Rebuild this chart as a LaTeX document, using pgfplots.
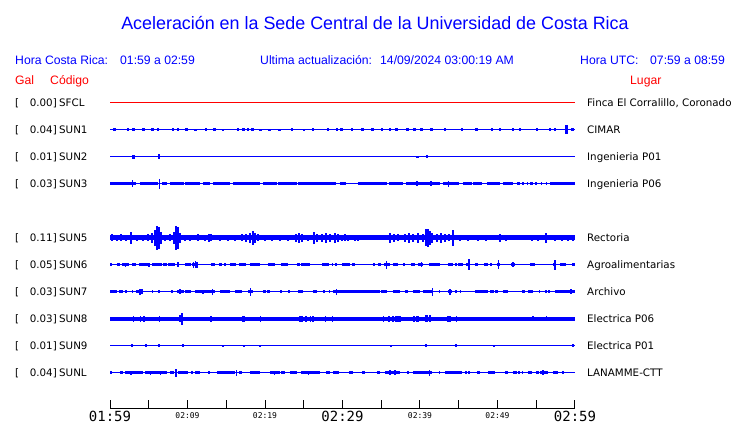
\documentclass[border=0pt]{standalone}
\usepackage{fontspec}
\setmainfont{Liberation Sans}
\newfontfamily\dejavu{DejaVu Sans}
\newfontfamily\mono{DejaVu Sans Mono}
\usepackage{pgfplots}
\pgfplotsset{compat=1.18}

% y axis is in points: each station trace sits on its own baseline
\pgfplotsset{
  base/.style={blue, line width=#1, mark=none},
  blocks/.style={draw=none, mark=none,
    error bars/.cd, x dir=both, x explicit, error mark=none,
    error bar style={draw=blue, line width=#1}},
  spikes/.style={draw=none, mark=none,
    error bars/.cd, y dir=both, y explicit, error mark=none,
    error bar style={draw=blue, line width=#1}},
}
\newcommand\bigtick{\mono\fontsize{14bp}{14bp}\selectfont}
\newcommand\smalltick{\mono\fontsize{8bp}{8bp}\selectfont}
\newcommand\station[4]{%
  \node[anchor=base west] at (15bp,#1bp-3.7bp) {[};
  \node[anchor=base east] at (57bp,#1bp-3.7bp) {#2]};
  \node[anchor=base west] at (59bp,#1bp-3.7bp) {#3};
  \node[anchor=base west] at (587bp,#1bp-3.7bp) {#4};}

\begin{document}
\begin{tikzpicture}
\useasboundingbox (0,0) rectangle (740bp,423bp);
\begin{axis}[
  at={(110bp,14bp)}, anchor=south west,
  scale only axis, width=465bp, height=319bp,
  xmin=0, xmax=60, ymin=14, ymax=333,
  axis x line*=bottom, axis y line=none, ytick=\empty,
  axis line style={black, line width=1bp},
  xtick={0,5,...,60},
  xticklabels={{\mbox{\bigtick 01:59}},{},{\mbox{\smalltick 02:09}},{},
    {\mbox{\smalltick 02:19}},{},{\mbox{\bigtick 02:29}},{},
    {\mbox{\smalltick 02:39}},{},{\mbox{\smalltick 02:49}},{},
    {\mbox{\bigtick 02:59}}},
  xtick align=inside, major tick length=9bp,
  xtick style={black, line width=1bp},
  xticklabel style={anchor=center, inner sep=0pt, yshift=-7bp},
  clip=false,
]
% SFCL
\addplot[red, line width=1bp, mark=none] coordinates {(0,320) (60,320)};
% SUN1
\addplot[base=1bp] coordinates {(0,293) (60,293)};
\addplot[spikes=2.5bp] table[x=t, y expr=293, y error=a] {
t a
0.6 1.5
2.3 1.5
3.0 1.5
4.3 1.5
5.5 1.5
6.2 1.5
8.1 1.5
8.8 1.5
9.9 1.5
11.0 1.2
12.4 1.5
13.5 1.5
14.6 1.2
16.5 1.5
17.2 1.5
17.8 1.5
18.4 1.5
19.4 1.2
20.6 1.2
21.9 1.2
23.5 1.5
25.0 1.2
26.2 1.5
28.1 1.5
29.3 1.5
29.9 1.5
31.2 1.5
32.6 1.5
33.9 1.5
35.1 1.5
36.1 1.5
37.0 1.5
38.4 1.5
39.3 1.5
40.2 1.5
41.5 1.5
43.2 1.5
45.4 1.5
47.3 1.5
49.3 1.5
50.3 1.5
52.0 1.5
52.9 1.5
55.1 1.5
56.8 1.5
57.4 1.5
58.9 4.5
59.7 1.5
};
% SUN2
\addplot[base=1bp] coordinates {(0,266) (60,266)};
\addplot[spikes=2.5bp] table[x=t, y expr=266, y error=a] {
t a
3.0 2
6.3 2.5
39.7 1
40.9 1.5
};
% SUN3
\addplot[base=1bp] coordinates {(0,239) (60,239)};
\addplot[blocks=3bp] table[x expr={(\thisrow{s}+\thisrow{e})/2},
  x error expr={(\thisrow{e}-\thisrow{s})/2}, y expr=239] {
s e
0.0 3.4
3.9 6.2
6.7 7.3
7.7 9.5
9.7 11.6
12.0 12.9
13.3 15.5
15.9 19.3
19.8 21.5
21.7 24.1
24.3 29.2
29.7 30.5
32.0 35.7
36.0 37.8
38.2 39.5
39.8 42.6
43.0 45.0
45.6 46.4
46.9 47.7
48.6 50.3
50.7 52.0
52.5 52.9
54.2 54.6
56.8 60.0
};
\addplot[spikes=1.5bp] table[x=t, y expr=239, y error=a] {
t a
2.9 3.5
6.4 5
39.6 2.5
41.4 2.5
43.7 3
46.0 1.5
46.6 1.5
47.9 1.5
49.4 1.5
51.6 1.5
53.3 1.5
53.9 1.5
55.0 1.5
55.7 1.5
56.3 1.5
};
% SUN5
\addplot[base=5bp] coordinates {(0,185) (60,185)};
\addplot[spikes=2bp] table[x=t, y expr=185, y error=a] {
t a
0.3 3.5
0.9 3
1.4 3.5
2.1 3
2.7 6
3.5 3
4.3 3
4.9 3.5
5.4 5
5.8 8
6.1 12
6.3 11
6.6 6
7.1 3
7.7 3.5
8.3 6
8.5 12
8.8 11
9.0 5
9.7 3
10.3 3
11.4 3.5
12.3 3
12.8 4
13.0 3.5
14.2 3
15.2 3
16.1 3
17.0 3.5
17.5 4
18.1 5
18.4 7
18.7 5
19.1 3.5
20.0 3
20.9 3
21.9 3
23.0 3
24.0 4
24.4 5
24.8 4
25.5 3
26.3 6
26.7 4
27.3 4
27.9 5
28.4 4
29.0 5
29.4 4
29.9 3
30.3 3.5
30.7 3
31.6 3
32.0 3
34.6 2.5
36.1 5
36.6 4
37.2 3.5
38.1 4
38.6 5
39.1 4
39.7 5
40.4 4
40.8 8.5
41.0 9
41.3 7
41.5 5
42.2 4
42.7 5
43.2 4
43.7 3.5
44.2 8
45.2 3
46.2 3
47.5 3
48.5 3
50.3 4
51.1 3
54.4 3
55.2 3
56.2 5
57.4 3
58.3 3
59.1 3
59.7 3
};
% SUN6
\addplot[base=1bp] coordinates {(0,158) (60,158)};
\addplot[blocks=3bp] table[x expr={(\thisrow{s}+\thisrow{e})/2},
  x error expr={(\thisrow{e}-\thisrow{s})/2}, y expr=158] {
s e
0.0 0.3
0.9 1.3
1.5 2.4
2.8 3.4
3.8 5.2
5.4 6.7
6.8 7.3
7.5 8.4
9.7 10.5
10.6 11.4
13.0 13.5
14.0 14.4
14.7 15.0
15.5 16.3
16.6 17.6
18.1 19.3
20.4 21.3
22.1 23.0
24.1 24.5
24.7 25.8
27.3 28.2
28.6 28.8
29.0 29.3
29.9 31.0
31.2 31.6
34.0 34.2
34.6 35.0
35.3 36.1
36.5 37.2
37.8 38.1
38.8 39.3
39.8 40.4
41.2 42.6
43.6 44.3
44.5 44.7
44.9 45.5
46.0 46.5
47.1 47.5
48.2 48.8
49.0 49.2
49.9 50.3
51.8 52.2
54.2 54.8
57.2 57.6
58.1 58.9
59.6 60.0
};
\addplot[spikes=1.5bp] table[x=t, y expr=158, y error=a] {
t a
2.0 2
5.0 2
8.8 2.5
10.8 3
11.0 3.5
11.2 3
35.7 4
40.2 2.5
46.3 5.5
50.1 4.5
52.0 2.5
57.4 5
};
% SUN7
\addplot[base=1bp] coordinates {(0,131) (60,131)};
\addplot[blocks=3bp] table[x expr={(\thisrow{s}+\thisrow{e})/2},
  x error expr={(\thisrow{e}-\thisrow{s})/2}, y expr=131] {
s e
0.0 0.9
1.1 1.7
1.9 2.2
2.8 3.0
3.35 4.3
5.4 5.5
6.2 6.5
7.9 8.1
8.7 9.5
9.7 10.5
11.0 13.5
14.2 15.5
16.1 17.0
17.8 18.5
19.8 20.1
20.3 20.6
21.9 22.1
23.0 23.2
24.2 24.9
26.2 26.7
27.5 27.7
28.2 28.4
28.8 34.8
35.0 35.7
36.5 37.4
38.1 38.5
39.1 40.0
40.4 41.7
42.4 42.6
43.6 44.1
44.5 44.7
45.1 45.2
47.1 48.8
49.0 49.5
49.7 50.1
50.7 51.4
53.1 53.5
54.0 54.6
55.3 55.5
56.1 56.3
56.5 56.8
57.4 60.0
};
\addplot[spikes=1.5bp] table[x=t, y expr=131, y error=a] {
t a
3.9 3
4.1 2.5
9.0 2.5
12.0 2
13.2 3
18.1 4
29.2 3
41.6 4
43.9 3
59.5 2.5
};
% SUN8
\addplot[base=4bp] coordinates {(0,104) (60,104)};
\addplot[spikes=1.5bp] table[x=t, y expr=104, y error=a] {
t a
3.0 3
3.95 3
4.4 3
6.4 3
9.0 3.5
9.3 6
13.0 3
17.1 3
17.3 3
19.4 3
24.5 3
24.8 3
25.3 3
25.9 3
26.2 3
27.8 3
28.7 3
35.3 3
36.0 3
36.5 3
36.9 3
37.1 3
37.3 3
37.5 3
39.2 3
39.6 3
39.8 3
40.8 3.5
41.0 3.5
41.3 3.5
43.6 3
43.9 3
44.7 3
54.6 2.5
56.3 2.5
};
% SUN9
\addplot[base=1bp] coordinates {(0,77) (60,77)};
\addplot[spikes=2bp] table[x=t, y expr=77, y error=a] {
t a
2.9 1.5
4.6 1.5
6.3 1.5
9.4 1.5
14.6 1
17.3 1
19.4 1
36.3 1
40.8 1.5
44.7 1.5
49.5 1
59.7 1.5
};
% SUNL
\addplot[base=1bp] coordinates {(0,50) (60,50)};
\addplot[blocks=3bp] table[x expr={(\thisrow{s}+\thisrow{e})/2},
  x error expr={(\thisrow{e}-\thisrow{s})/2}, y expr=50] {
s e
0.0 0.2
1.3 1.7
1.9 4.3
4.5 7.3
7.7 8.2
8.8 10.1
10.5 10.7
11.0 11.6
12.7 12.9
13.8 16.1
16.6 17.0
18.1 19.3
20.7 21.9
22.1 22.6
23.2 24.1
24.7 27.1
27.9 28.4
28.8 29.5
30.9 31.4
32.5 32.9
34.4 34.8
35.5 37.4
38.3 38.5
39.1 41.5
42.4 42.6
43.2 45.4
45.8 46.0
46.2 46.4
47.3 47.7
48.8 49.7
51.0 51.4
52.0 52.5
52.7 52.9
53.1 53.3
54.0 54.4
55.0 55.3
55.5 56.5
57.2 57.8
58.3 58.5
};
\addplot[spikes=1.5bp] table[x=t, y expr=50, y error=a] {
t a
2.7 2
5.2 2
6.5 2
8.5 4
16.3 3
21.2 2
25.6 2
36.1 2.5
36.8 2.5
41.2 3
55.9 2.5
};
\end{axis}

% titles and header lines
\node[blue, anchor=base, inner sep=0, font=\fontsize{17.9bp}{20bp}\selectfont]
  at (375bp,393.7bp) {Aceleración en la Sede Central de la Universidad de Costa Rica};
\begin{scope}[every node/.style={anchor=base west, inner sep=0,
    font=\fontsize{12.2bp}{14bp}\selectfont}]
  \node[blue] at (15bp,358bp) {Hora Costa Rica:};
  \node[blue] at (120bp,358bp) {01:59 a 02:59};
  \node[blue] at (260bp,358bp) {Ultima actualización:};
  \node[blue] at (380bp,358bp) {14/09/2024 03:00:19 AM};
  \node[blue] at (580bp,358bp) {Hora UTC:};
  \node[blue] at (650bp,358bp) {07:59 a 08:59};
  \node[red] at (15bp,338bp) {Gal};
  \node[red] at (50bp,338bp) {Código};
  \node[red] at (630bp,338bp) {Lugar};
\end{scope}
\begin{scope}[every node/.style={inner sep=0,
    font=\dejavu\fontsize{10.3bp}{12bp}\selectfont}]
  \station{320}{0.00}{SFCL}{Finca El Corralillo, Coronado}
  \station{293}{0.04}{SUN1}{CIMAR}
  \station{266}{0.01}{SUN2}{Ingenieria P01}
  \station{239}{0.03}{SUN3}{Ingenieria P06}
  \station{185}{0.11}{SUN5}{Rectoria}
  \station{158}{0.05}{SUN6}{Agroalimentarias}
  \station{131}{0.03}{SUN7}{Archivo}
  \station{104}{0.03}{SUN8}{Electrica P06}
  \station{77}{0.01}{SUN9}{Electrica P01}
  \station{50}{0.04}{SUNL}{LANAMME-CTT}
\end{scope}
\end{tikzpicture}
\end{document}
